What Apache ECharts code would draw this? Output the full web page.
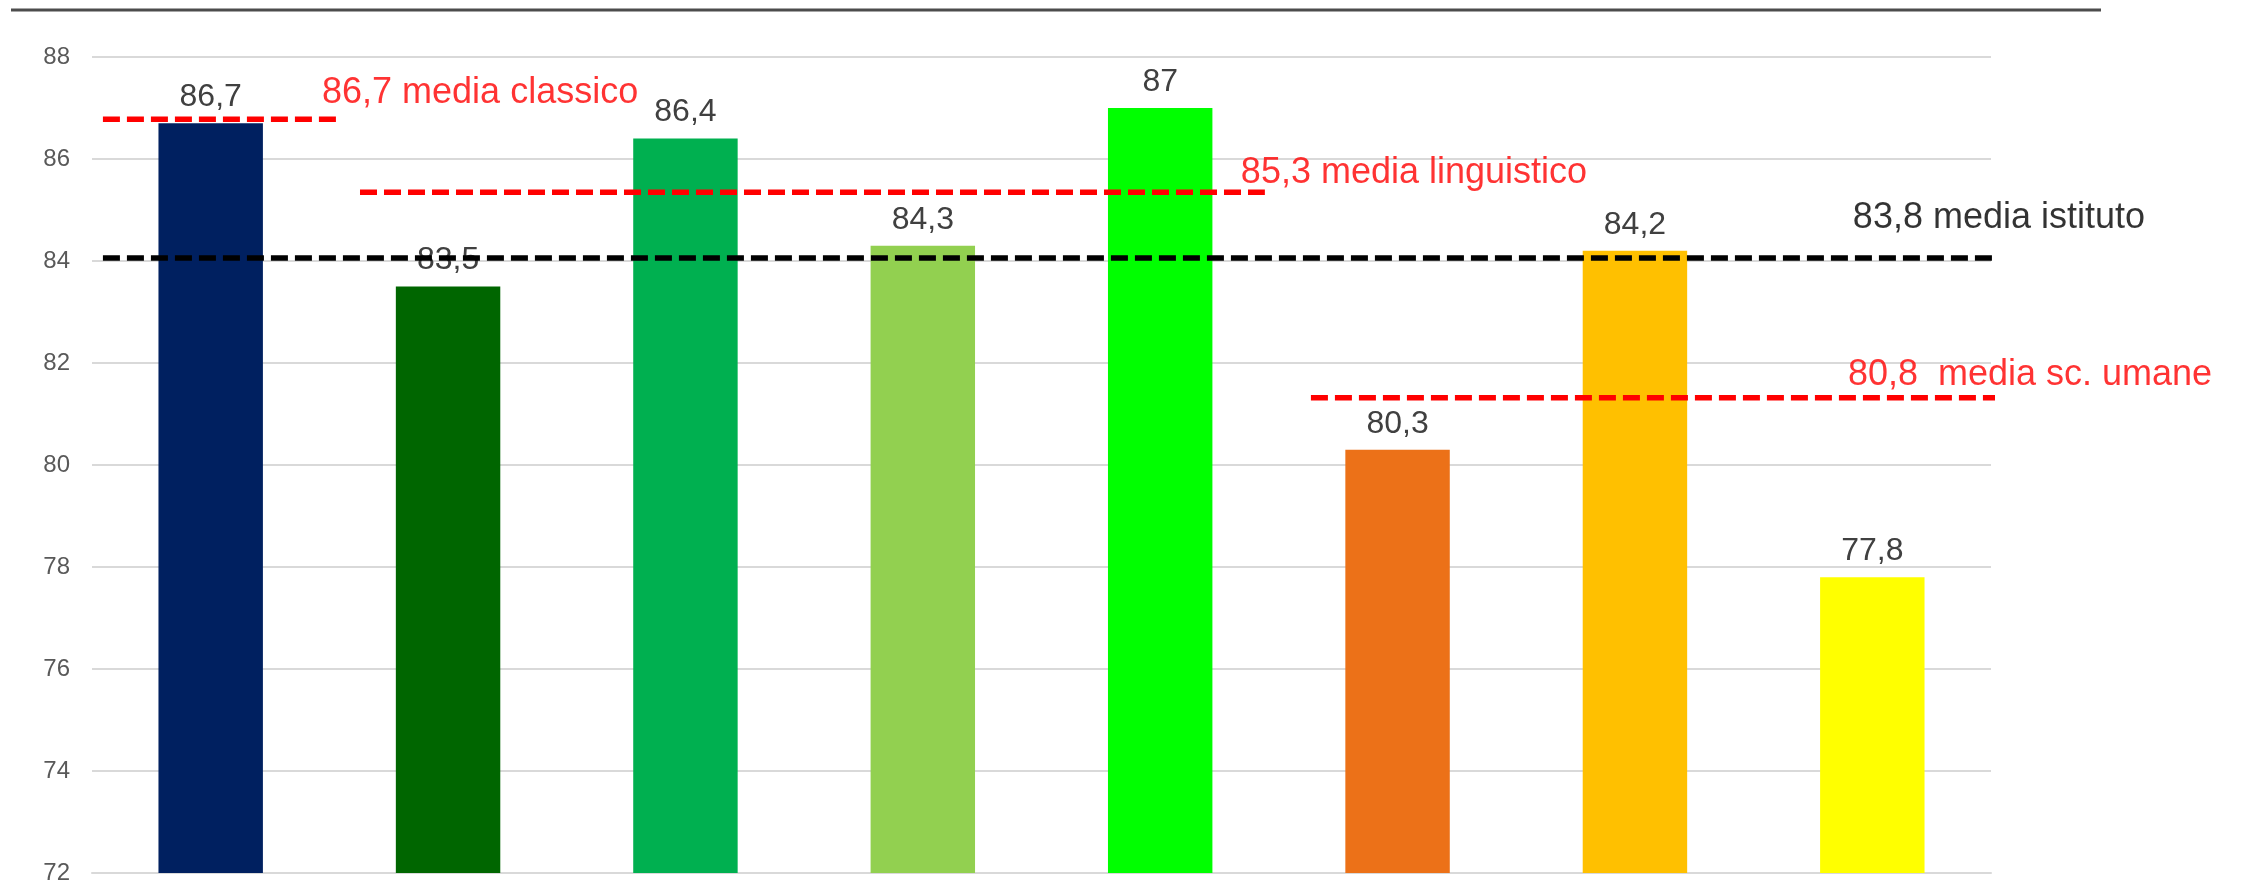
<!DOCTYPE html>
<html>
<head>
    <meta charset="utf-8">
    <title>Medie per classe</title>
    <script src="https://cdn.jsdelivr.net/npm/echarts@6/dist/echarts.min.js"></script>
    <style>
        html, body { margin: 0; padding: 0; background: #ffffff; }
        #main { width: 2241px; height: 885px; }
    </style>
</head>
<body>
<div id="main"></div>
<script type="text/javascript">
// classi (etichette non visibili nel grafico)
var categories = ['1', '2', '3', '4', '5', '6', '7', '8'];
var values = [86.7, 83.5, 86.4, 84.3, 87, 80.3, 84.2, 77.8];
var barColors = ['#002060', '#006600', '#00B050', '#92D050', '#00FF00', '#EC7118', '#FFC000', '#FFFF00'];

var yTicks = [72, 74, 76, 78, 80, 82, 84, 86, 88];

// linee di media: livello nel grafico e estensione orizzontale (in unita di categoria)
var mediaNames = ['86,7 media classico', '85,3 media linguistico', '83,8 media istituto', '80,8  media sc. umane'];
var mediaLevel = [86.78, 85.35, 84.06, 81.32];
var mediaFrom = [0.046, 1.129, 0.046, 5.135];
var mediaTo = [1.028, 4.941, 8.109, 8.046];
var mediaColors = ['#FF0000', '#FF0000', '#000000', '#FF0000'];
var labelOffsets = [[-14, -26], [-24, -19], [-164, -40], [-154, -23]];

var FONT = "'Liberation Sans', Arial, sans-serif";

var echart = echarts.init(document.getElementById('main'));

var series = [{
    type: 'bar',
    data: values.map(function (v, i) {
        return { value: v, itemStyle: { color: barColors[i] } };
    }),
    barCategoryGap: '56%',
    label: {
        show: true,
        position: 'top',
        distance: 10,
        fontFamily: FONT,
        fontSize: 32,
        color: '#404040',
        formatter: function (p) { return String(p.value).replace('.', ','); }
    },
    z: 2
}];

mediaNames.forEach(function (name, i) {
    series.push({
        type: 'line',
        xAxisIndex: 1,
        symbol: 'none',
        clip: false,
        silent: true,
        lineStyle: { color: mediaColors[i], width: 5.5, type: [17, 7] },
        data: [[mediaFrom[i], mediaLevel[i]], [mediaTo[i], mediaLevel[i]]],
        z: 5
    });
    series.push({
        type: 'scatter',
        xAxisIndex: 1,
        symbolSize: 1,
        clip: false,
        silent: true,
        itemStyle: { color: 'rgba(0,0,0,0)' },
        label: {
            show: true,
            position: 'inside',
            align: 'left',
            verticalAlign: 'middle',
            offset: labelOffsets[i],
            fontFamily: FONT,
            fontSize: 36,
            color: mediaColors[i],
            formatter: name
        },
        data: [[mediaTo[i], mediaLevel[i]]],
        z: 6
    });
});

var option = {
    animation: false,
    backgroundColor: '#ffffff',
    grid: { left: 92, right: 250, top: 57, bottom: 12, containLabel: false },
    graphic: [{
        type: 'line',
        shape: { x1: 11, y1: 10, x2: 2101, y2: 10 },
        style: { stroke: '#4d4d4d', lineWidth: 3 }
    }],
    xAxis: [{
        type: 'category',
        data: categories,
        axisLine: { show: true, lineStyle: { color: '#d9d9d9', width: 2 } },
        axisTick: { show: false },
        axisLabel: { show: false }
    }, {
        type: 'value',
        min: 0,
        max: 8,
        show: false
    }],
    yAxis: {
        type: 'value',
        min: yTicks[0],
        max: yTicks[yTicks.length - 1],
        interval: 2,
        axisLine: { show: false },
        axisTick: { show: false },
        axisLabel: { fontFamily: FONT, fontSize: 24, color: '#595959', margin: 22 },
        splitLine: { lineStyle: { color: '#d9d9d9', width: 2 } }
    },
    series: series
};

echart.setOption(option);
</script>
</body>
</html>
